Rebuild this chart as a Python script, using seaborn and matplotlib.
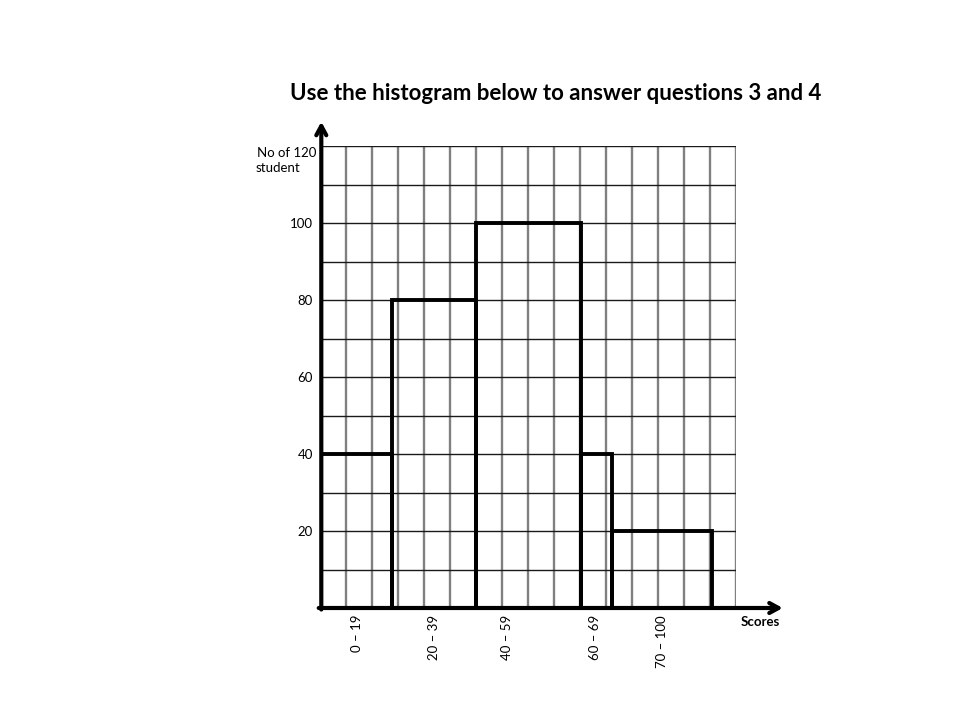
import numpy as np
import pandas as pd
import matplotlib
matplotlib.use("Agg")
import matplotlib.pyplot as plt
import seaborn as sns

# ---- data ----
categories = ["0 – 19", "20 – 39", "40 – 59", "60 – 69", "70 – 100"]
counts = [40, 80, 100, 40, 20]
bin_edges = [0, 2.77, 6, 10.05, 11.23, 15.08]
label_positions = [1.42, 4.38, 7.19, 10.58, 13.15]
y_ticks = [20, 40, 60, 80, 100]
top_label = "No of 120"
title = "Use the histogram below to answer questions 3 and 4"

sns.set_theme(style="white")
plt.rcParams["font.family"] = ["Lato", "DejaVu Sans"]
plt.rcParams["text.color"] = "black"
plt.rcParams["xtick.color"] = "black"
plt.rcParams["ytick.color"] = "black"
plt.rcParams["xtick.labelcolor"] = "black"
plt.rcParams["ytick.labelcolor"] = "black"

W, H = 960, 720
fig = plt.figure(figsize=(W / 100, H / 100), dpi=100)
x0, x1, y0, y1 = 320, 736, 146, 608
ax = fig.add_axes([x0 / W, 1 - y1 / H, (x1 - x0) / W, (y1 - y0) / H])

mids = [(bin_edges[i] + bin_edges[i + 1]) / 2 for i in range(len(counts))]
df = pd.DataFrame({"mid": mids, "count": counts})
sns.histplot(data=df, x="mid", weights="count", bins=bin_edges, fill=False,
             element="bars", color="black", linewidth=2.8, ax=ax, zorder=3)

ax.set_xlim(0, 16)
ax.set_ylim(0, 120)
ax.set_xlabel("")
ax.set_ylabel("")
for s in ax.spines.values():
    s.set_visible(False)

# grid
for xv in range(0, 17):
    ax.plot([xv, xv], [0, 120], color="#808080", lw=1.7, zorder=1, solid_capstyle="butt")
for yv in range(10, 121, 10):
    ax.plot([0, 16], [yv, yv], color="#1a1a1a", lw=1.0, zorder=1)

ax.set_xticks(label_positions, categories, rotation=90, fontsize=9.5, color="black")
ax.set_yticks(y_ticks, [str(v) for v in y_ticks], fontsize=9.5, color="black")
ax.tick_params(axis="both", length=0)
ax.tick_params(axis="x", pad=5)
ax.tick_params(axis="y", pad=5)

# axis arrows
arrow = dict(arrowstyle="->,head_length=0.55,head_width=0.3",
             lw=3, color="black", shrinkA=0, shrinkB=0)
ax.annotate("", xy=(17.8, 0), xytext=(-0.05, 0), xycoords="data",
            arrowprops=arrow, annotation_clip=False, zorder=5)
ax.annotate("", xy=(0.05, 126.3), xytext=(0.05, -0.4), xycoords="data",
            arrowprops=arrow, annotation_clip=False, zorder=5)

fig.text(316 / W, 1 - 153 / H, top_label, fontsize=9.5, ha="right", va="center", color="black")
fig.text(256 / W, 1 - 168 / H, "student", fontsize=9.5, ha="left", va="center", color="black")
fig.text(760 / W, 1 - 622 / H, "Scores", fontsize=9.5, fontweight="bold",
         ha="center", va="center", color="black")
fig.text(556 / W, 1 - 93 / H, title, fontsize=16, fontweight="bold",
         ha="center", va="center", color="black")

fig.savefig("out.png", dpi=100, facecolor="white")
